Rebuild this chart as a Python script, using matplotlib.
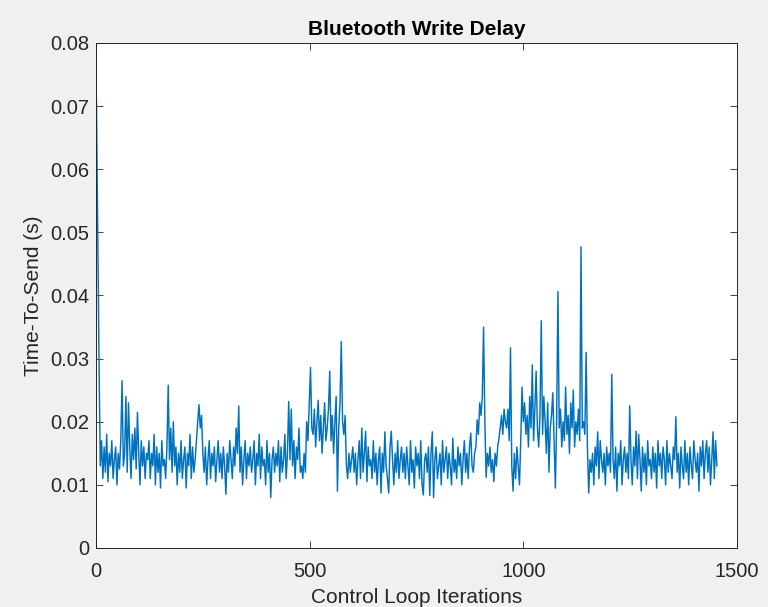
import numpy as np
import matplotlib
matplotlib.use("Agg")
import matplotlib.pyplot as plt

# --- Data (time-to-send in ms, one reading every 3 loop iterations) ---
delay_ms = [
    71, 50, 30, 13, 17, 11, 16, 12, 18, 10.5, 15, 13, 17, 11, 14, 16, 10, 15, 12.5, 17,
    26.5, 13, 15, 24, 12, 23, 16, 11, 18, 14, 19, 12.5, 21.5, 15, 10, 17, 13, 16, 11, 15,
    14, 17, 11, 15, 13, 18, 10, 16, 12, 15, 9.5, 17, 13, 14, 11, 16, 25.8, 14, 19, 12,
    20, 13, 16, 10, 15, 12, 17, 11, 14, 16, 9.5, 15, 13, 18, 11, 16, 12, 14, 17, 20,
    22.7, 19, 21, 15, 12, 16, 10, 14, 17, 11, 15, 13, 16, 10.5, 14, 17, 12, 15, 11, 16,
    13, 8.5, 15, 12, 17, 14, 11, 16, 13, 19, 15, 22.5, 12, 16, 10, 14, 17, 11, 15, 13,
    16, 12, 14, 17, 10, 15, 13, 18, 11, 16, 13, 14, 10, 17, 12, 15, 8, 14, 16, 12,
    15, 13, 17, 10.5, 16, 12, 14, 18, 11, 15, 23.2, 14, 22, 13, 17, 11, 16, 14, 19, 12,
    13, 11, 15, 12, 20, 17, 23, 28.6, 19, 18, 22, 16, 20, 23.4, 17, 21, 15, 19, 23, 17,
    19, 22, 28, 17, 21, 15, 20, 24, 9, 19, 23, 32.7, 20, 18, 21, 13, 11, 15, 12, 14,
    16, 12, 15, 10, 14, 17, 11, 19, 12, 15, 18.5, 10.5, 16, 13, 14, 11, 17, 12, 15, 10,
    14, 16, 8.7, 15, 12, 18.4, 13, 11, 8.7, 16, 18.5, 14, 10, 15, 12, 17, 11, 14, 16, 12,
    15, 11, 16, 13, 10, 17, 12, 14, 9.5, 16, 13, 15, 11, 17, 10, 8.4, 14, 15, 12, 16,
    8.3, 15, 18.4, 8, 14, 16, 11, 13, 15, 10, 17, 12, 14, 16, 11, 15, 13, 10, 17.4, 12,
    14, 11, 16, 13, 15, 10, 14, 17, 12, 15, 11, 16, 18.2, 13, 12, 15, 16, 20.3, 18, 23,
    21, 24, 35, 20, 11.2, 15, 13, 16, 12, 14, 10.5, 15, 13, 16, 17.4, 19, 21, 18, 22, 20,
    19, 22, 17, 31.7, 13, 9, 15, 11, 16, 13, 10, 17, 25.5, 20, 23, 18, 21, 16, 24, 19,
    29, 17, 22, 28, 19, 16, 21, 36, 18, 24, 20, 15, 23, 12, 19, 21, 24.6, 17, 9.5, 20,
    40.6, 19, 22, 16, 20, 17, 25.5, 18, 21, 15, 23, 19, 25, 16, 20, 18, 22, 17, 47.7, 19,
    20, 18, 31, 16, 8.7, 14, 12, 15, 10, 16, 13, 18.4, 11, 17, 14, 12, 15, 10, 16, 13,
    15, 12, 27.5, 14, 11, 16, 9, 15, 13, 17, 10, 14, 16, 12, 15, 11, 22.5, 14, 10, 16,
    13, 18.5, 11, 18, 14, 9, 16, 12, 15, 10, 17, 13, 14, 11, 16, 12, 15, 9.5, 17, 13,
    15, 11, 16, 14, 10, 17, 12, 15, 13, 11, 16, 14, 20.8, 12, 15, 9.5, 16, 13, 11, 17,
    12, 15, 10, 16, 13, 11, 17, 14, 12, 15, 9, 16, 13, 17, 11, 15, 17, 12, 16, 10,
    14, 18.4, 11, 17, 13,
]
iterations = np.arange(1, 1 + 3 * len(delay_ms), 3)
delay_s = np.array(delay_ms) / 1000.0

x_ticks = [0, 500, 1000, 1500]
y_ticks = [0, 0.01, 0.02, 0.03, 0.04, 0.05, 0.06, 0.07, 0.08]
y_tick_labels = ["0", "0.01", "0.02", "0.03", "0.04", "0.05", "0.06", "0.07", "0.08"]

# --- Figure ---
plt.rcParams["font.family"] = ["Liberation Sans", "DejaVu Sans"]
fig = plt.figure(figsize=(7.68, 6.07), dpi=100, facecolor="#f0f0f0")
ax = fig.add_axes([0.125, 0.0972, 0.8346, 0.832])

ax.plot(iterations, delay_s, color="#0072BD", linewidth=1.05)

ax.set_xlim(0, 1500)
ax.set_ylim(0, 0.08)
ax.set_xticks(x_ticks)
ax.set_yticks(y_ticks)
ax.set_yticklabels(y_tick_labels)
ax.tick_params(direction="in", length=5, width=0.6, colors="#262626",
               labelsize=14.5, top=True, right=True, pad=5)
ax.tick_params(axis="x", pad=10)
for side in ax.spines.values():
    side.set_color("#262626")
    side.set_linewidth(0.7)

ax.set_title("Bluetooth Write Delay", fontsize=15, fontweight="bold", color="black", pad=6)
ax.set_xlabel("Control Loop Iterations", fontsize=15, color="#262626", labelpad=5)
ax.set_ylabel("Time-To-Send (s)", fontsize=15, color="#262626", labelpad=5)

fig.savefig("out.png", dpi=100, facecolor=fig.get_facecolor())
